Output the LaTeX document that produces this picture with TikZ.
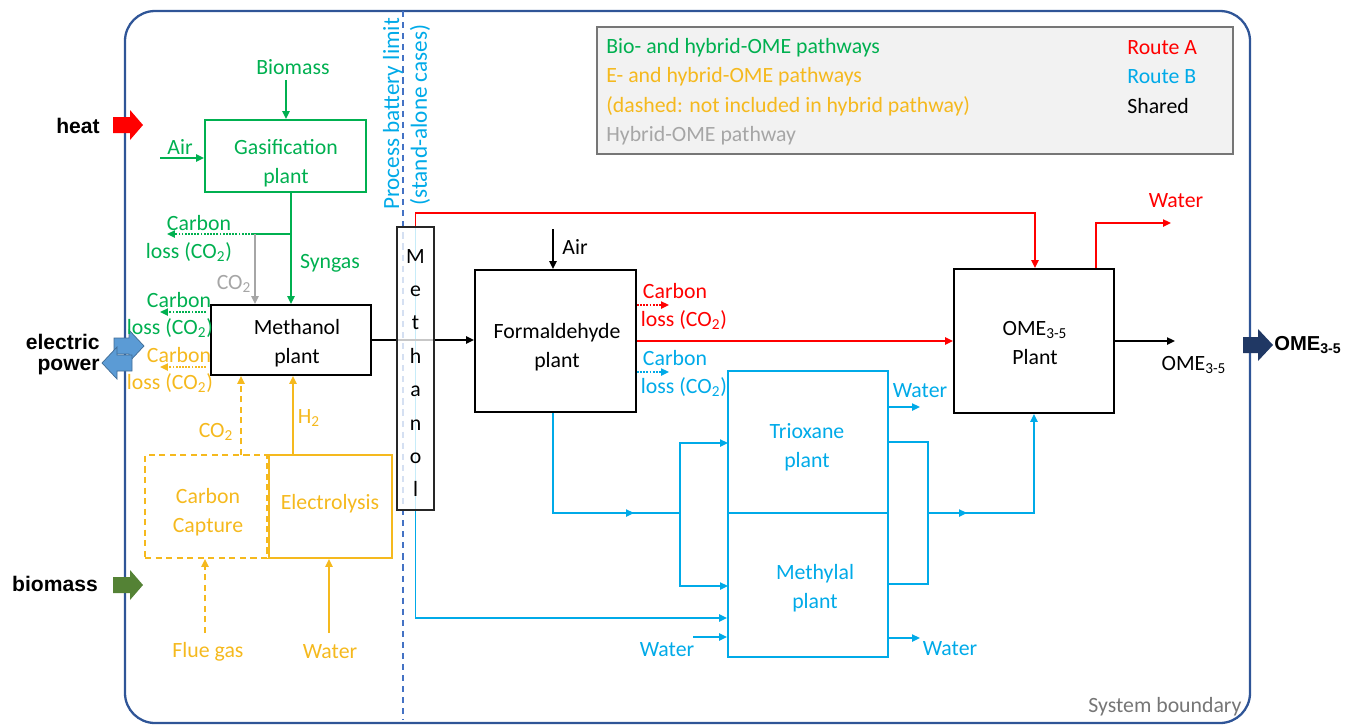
\documentclass[tikz,border=0pt]{standalone}
\usepackage{fontspec}
\setmainfont{Carlito}
\newfontfamily\arialfont{Liberation Sans}
\usetikzlibrary{arrows.meta,fit}
\definecolor{cgreen}{RGB}{0,176,80}
\definecolor{cgold}{RGB}{245,185,30}
\definecolor{cblue}{RGB}{0,170,232}
\definecolor{cred}{RGB}{255,0,0}
\definecolor{cgray}{RGB}{166,166,166}
\definecolor{cbound}{RGB}{47,85,151}
\definecolor{cbattery}{RGB}{68,114,196}
\definecolor{cpower}{RGB}{91,155,213}
\definecolor{cbio}{RGB}{84,130,53}
\definecolor{cnavy}{RGB}{32,56,100}
\definecolor{clegfill}{RGB}{242,242,242}
\definecolor{clegdraw}{RGB}{118,118,118}
\newcommand\sbs[1]{\textsubscript{#1}}
\begin{document}
\begin{tikzpicture}[x=0.02cm,y=-0.02cm,
  every node/.style={font=\fontsize{12.4}{16.5}\selectfont, inner sep=0pt, align=center},
  ln/.style={line width=1.1pt},
  arr/.style={ln,-{Triangle[length=4.5pt,width=4pt]}},
  dotarr/.style={arr, dash pattern=on 1pt off 0.8pt},
  dasharr/.style={arr, dash pattern=on 3.5pt off 2.5pt},
  box/.style={draw, line width=1.1pt, inner sep=0pt},
  lbl/.style={font=\arialfont\bfseries\fontsize{12}{14}\selectfont},
]
\useasboundingbox (0,0) rectangle (1347,725);
% system boundary
\draw[cbound, line width=1.3pt, rounded corners=0.6cm] (125,11) rectangle (1250,723);
\node[text=clegdraw] (lsys) at (1165,707) {System boundary};

% fat arrows
\fill[cred] (113,117) -- (130,117) -- (130,110) -- (143,125) -- (130,140) -- (130,133) -- (113,133) -- cycle;
\fill[cbio] (113,577) -- (130,577) -- (130,570) -- (143,585) -- (130,600) -- (130,593) -- (113,593) -- cycle;
\filldraw[fill=cpower, draw=cpower!70!black, line width=0.4pt] (114,338) -- (129,338) -- (129,330) -- (144,346) -- (129,362) -- (129,354) -- (114,354) -- cycle;
\filldraw[fill=cpower, draw=cpower!70!black, line width=0.4pt] (132,355) -- (117,355) -- (117,347) -- (102,363) -- (117,379) -- (117,371) -- (132,371) -- cycle;
\fill[cnavy] (1243,337) -- (1258,337) -- (1258,329) -- (1273,345) -- (1258,361) -- (1258,353) -- (1243,353) -- cycle;
\node[lbl] (lheat) at (78,126) {heat};
\node[lbl, anchor=east] (lel1) at (100,342) {electric};
\node[lbl, anchor=east] (lel2) at (100,367) {power};
\node[lbl] (lbm) at (55,584) {biomass};
\node[lbl, font=\arialfont\bfseries\fontsize{11.5}{14}\selectfont, anchor=west] (lomeo) at (1274,345) {OME\sbs{3-5}};

% legend
\node[fit={(597,27)(1233,154)}, draw=clegdraw, fill=clegfill, line width=1pt] (legend) {};
\node[anchor=west, text=cgreen] (lg1) at (606,48) {Bio- and hybrid-OME pathways};
\node[anchor=west, text=cgold] (lg2) at (606,77) {E- and hybrid-OME pathways};
\node[anchor=west, text=cgold] (lg3) at (606,106) {(dashed: not included in hybrid pathway)};
\node[anchor=west, text=cgray] (lg4) at (606,136) {Hybrid-OME pathway};
\node[anchor=west, text=cred] (lr1) at (1127,48) {Route A};
\node[anchor=west, text=cblue] (lr2) at (1127,77) {Route B};
\node[anchor=west] (lr3) at (1127,106) {Shared};

% battery limit
\coordinate (bt) at (403,11);
\coordinate (bb) at (403,720);
\draw[cbattery, line width=1.1pt, dash pattern=on 3.5pt off 2.8pt] (bt) -- (bb);
\node[text=cblue, rotate=90, font=\fontsize{13.2}{15}\selectfont] (lbat1) at (393,114) {Process battery limit};
\node[text=cblue, rotate=90, font=\fontsize{13.2}{15}\selectfont] (lbat2) at (420,115) {(stand-alone cases)};

% boxes
\node[box, draw=cgreen, fit={(205,120)(366,192)}] (gas) {};
\node[text=cgreen] (gast) at (286,163) {Gasification\\plant};
\node[box, fit={(211,305)(371,375)}] (meoh) {};
\node (meoht) at (297,343) {Methanol\\plant};
\node[box, draw=cgold, dash pattern=on 3.5pt off 2.5pt, fit={(145,455)(267,558)}] (cc) {};
\node[text=cgold] (cct) at (208,512) {Carbon\\Capture};
\node[box, draw=cgold, fit={(269,455)(392,558)}] (ely) {};
\node[text=cgold] (elyt) at (330,504) {Electrolysis};
\node[box, fit={(475,270)(636,412)}] (form) {};
\node (formt) at (557,347) {Formaldehyde\\plant};
\node[box, draw=cblue, fit={(728,371)(888,513)}] (tri) {};
\node[text=cblue] (trit) at (807,447) {Trioxane\\plant};
\node[box, draw=cblue, fit={(728,513)(888,657)}] (mey) {};
\node[text=cblue] (meyt) at (815,588) {Methylal\\plant};
\node[box, fit={(954,269)(1114,413)}] (ome) {};
\node (omet) at (1035,343) {OME\sbs{3-5}\\Plant};

% green side
\node[text=cgreen] (lbio) at (293,67) {Biomass};
\node[text=cgreen] (lair) at (180,147) {Air};
\node[text=cgreen] (lsyn) at (330,263) {Syngas};
\node[text=cgreen] (lcl1a) at (199,223) {Carbon};
\node[text=cgreen] (lcl1b) at (189,252) {loss (CO\sbs{2})};
\node[text=cgray] (lco2g) at (234,284) {CO\sbs{2}};
\node[text=cgreen] (lcl2a) at (179,300) {Carbon};
\node[text=cgreen] (lcl2b) at (170,328) {loss (CO\sbs{2})};
\node[text=cgold] (lcl3a) at (179,355) {Carbon};
\node[text=cgold] (lcl3b) at (170,383) {loss (CO\sbs{2})};
\node[text=cgold] (lco2o) at (216,432) {CO\sbs{2}};
\node[text=cgold] (lh2) at (309,418) {H\sbs{2}};
\node[text=cgold] (lflue) at (208,652) {Flue gas};
\node[text=cgold] (lwat1) at (330,652) {Water};

\coordinate (biotop) at (286,80);
\draw[arr, cgreen] (biotop) -- (biotop |- gas.north);
\coordinate (airin) at (160,158);
\draw[arr, cgreen] (airin) -- (airin -| gas.west);
\coordinate (synx) at (291,234);
\coordinate (clb) at (253,234);
\coordinate (cl1) at (167,234);
\draw[arr, cgreen] (synx |- gas.south) -- (synx |- meoh.north);
\draw[ln, cgreen] (synx) -- (clb);
\draw[dotarr, cgreen] (clb) -- (cl1);
\coordinate (gco2) at (255,234);
\draw[arr, cgray] (gco2) -- (gco2 |- meoh.north);
\coordinate (cl2) at (160,312);
\coordinate (cl2s) at (206,312);
\draw[dotarr, cgreen] (cl2s) -- (cl2);
\coordinate (cl3) at (160,367);
\coordinate (cl3s) at (206,367);
\draw[dotarr, cgold] (cl3s) -- (cl3);
\coordinate (co2x) at (241,455);
\draw[dasharr, cgold] (co2x) -- (co2x |- meoh.south);
\coordinate (h2x) at (293,455);
\draw[arr, cgold] (h2x) -- (h2x |- meoh.south);
\coordinate (flue) at (205,633);
\draw[dasharr, cgold] (flue) -- (flue |- cc.south);
\coordinate (wat) at (329,633);
\draw[arr, cgold] (wat) -- (wat |- ely.south);

% shared / route lines behind column
\coordinate (colt) at (415.5,227);
\coordinate (mb) at (415.5,618);
\draw[arr, cblue] (colt) -- (mb) -- (mb -| mey.west);
\draw[arr] (meoh.east) -- (meoh.east -| form.west);
\coordinate (redx) at (1035,213);
\draw[arr, cred] (colt) |- (redx) -- (redx |- ome.north);

% methanol column
\node[box, draw=black!85, line width=0.9pt, fill=white, fill opacity=0.78, fit={(397,227)(434,510)}] (col) {};
\node[font=\fontsize{12.4}{19}\selectfont] (colt2) at (415.5,373) {M\\e\\t\\h\\a\\n\\o\\l};

% formaldehyde
\node (lair2) at (575,247) {Air};
\coordinate (airf) at (553,229);
\draw[arr] (airf) -- (airf |- form.north);
\node[text=cred] (lcl4a) at (675,291) {Carbon};
\node[text=cred] (lcl4b) at (684,320) {loss (CO\sbs{2})};
\node[text=cblue] (lcl5a) at (675,358) {Carbon};
\node[text=cblue] (lcl5b) at (684,387) {loss (CO\sbs{2})};
\coordinate (rcl) at (669,305);
\draw[dotarr, cred] (rcl -| form.east) -- (rcl);
\coordinate (bcl) at (669,372);
\draw[dotarr, cblue] (bcl -| form.east) -- (bcl);
\draw[arr, cred] (form.east) -- (form.east -| ome.west);

% route B
\coordinate (fb) at (553,513);
\coordinate (fj) at (680,513);
\coordinate (fm) at (634,513);
\draw[ln, cblue] (fb |- form.south) -- (fb) -- (fj);
\draw[arr, cblue] (fb) -- (fm);
\coordinate (tin) at (728,443);
\coordinate (min) at (728,586);
\draw[arr, cblue] (fj) |- (tin);
\draw[arr, cblue] (fj) |- (min);
\coordinate (wl) at (693,637);
\draw[arr, cblue] (wl) -- (wl -| mey.west);
\node[text=cblue] (lwat3) at (667,650) {Water};
\coordinate (tw) at (920,407);
\draw[arr, cblue] (tw -| tri.east) -- (tw);
\node[text=cblue] (lwat2) at (920,391) {Water};
\coordinate (mw) at (920,638);
\draw[arr, cblue] (mw -| mey.east) -- (mw);
\node[text=cblue] (lwat4) at (950,649) {Water};
\coordinate (to1) at (928,442);
\coordinate (to2) at (928,584);
\draw[ln, cblue] (to1 -| tri.east) -- (to1) -- (to2) -- (to2 -| mey.east);
\coordinate (ox) at (928,513);
\coordinate (oxm) at (967,513);
\coordinate (oj) at (1034,513);
\draw[arr, cblue] (ox) -- (oj) -- (oj |- ome.south);
\draw[arr, cblue] (ox) -- (oxm);

% OME outputs
\coordinate (rw) at (1096,223);
\coordinate (rwe) at (1171,223);
\draw[arr, cred] (rw |- ome.north) -- (rw) -- (rwe);
\node[text=cred] (lwat5) at (1176,201) {Water};
\coordinate (omeout) at (1175,341);
\draw[arr] (ome.east) -- (omeout);
\node (lome) at (1194,365) {OME\sbs{3-5}};
\end{tikzpicture}
\end{document}
